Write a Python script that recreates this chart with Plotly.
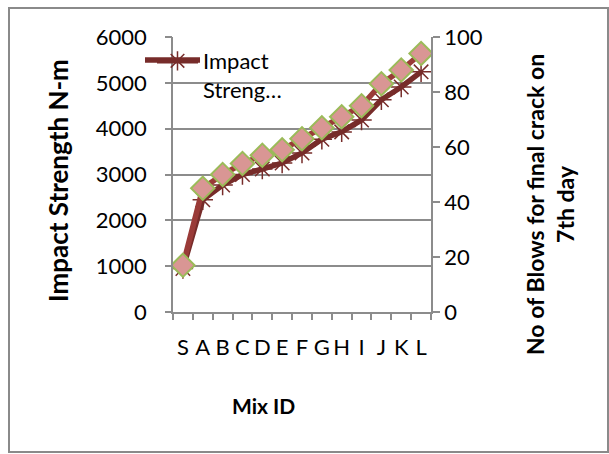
import plotly.graph_objects as go

mix_ids = ["S", "A", "B", "C", "D", "E", "F", "G", "H", "I", "J", "K", "L"]
impact_strength = [950, 2450, 2770, 3000, 3120, 3250, 3470, 3770, 3930, 4190, 4630, 4910, 5240]
blows_7th_day = [17, 45, 50, 54, 57, 59, 63, 67, 71, 75, 83, 88, 94]

FONT = "Lato"
GRID = "#8c8c8c"
IMPACT_COLOR = "#772c2a"
L, R, T, B = 173, 431, 37, 312
PW, PH = R - L, B - T


def px(x):
    return (x - L) / PW


def py(y):
    return (B - y) / PH


fig = go.Figure()

fig.add_trace(go.Scatter(
    x=mix_ids, y=impact_strength, name="Impact<br>Streng…",
    mode="lines+markers",
    line=dict(color=IMPACT_COLOR, width=5.5),
    marker=dict(symbol="asterisk-open", size=17,
                line=dict(color="#8eaad8", width=1.5)),
))
fig.add_trace(go.Scatter(
    x=mix_ids, y=blows_7th_day, name="No of Blows", yaxis="y2",
    mode="lines+markers",
    line=dict(color="#9a3b38", width=5.5),
    marker=dict(symbol="diamond", size=18, color="#d99694",
                line=dict(color="#9bbb59", width=2)),
    showlegend=False,
))

n = len(mix_ids)
boundaries = [i - 0.5 for i in range(n + 1)]

fig.update_layout(
    width=609, height=454,
    margin=dict(l=L, r=609 - R, t=T, b=454 - B),
    paper_bgcolor="white", plot_bgcolor="white",
    font=dict(family=FONT, size=22, color="black"),
    xaxis=dict(
        type="category", range=[-0.5, n - 0.5],
        tickmode="array", tickvals=mix_ids, ticktext=mix_ids, tickangle=0,
        ticks="outside", ticklen=15, tickcolor="rgba(0,0,0,0)",
        showline=True, linecolor=GRID, linewidth=1.5, showgrid=False,
        tickfont=dict(size=22),
    ),
    # tick marks between categories
    xaxis2=dict(
        overlaying="x", side="bottom", range=[-0.5, n - 0.5],
        tickmode="array", tickvals=boundaries, showticklabels=False,
        ticks="outside", ticklen=7, tickcolor=GRID, tickwidth=1.5,
        showline=False, showgrid=False, zeroline=False,
    ),
    yaxis=dict(
        range=[0, 6000], dtick=1000,
        ticks="outside", ticklen=20, tickcolor="rgba(0,0,0,0)",
        showline=True, linecolor=GRID, linewidth=1.5,
        showgrid=True, gridcolor=GRID, gridwidth=1.5, zeroline=False,
        tickfont=dict(size=22),
    ),
    yaxis3=dict(
        overlaying="y", side="left", range=[0, 6000], dtick=1000,
        showticklabels=False,
        ticks="outside", ticklen=7, tickcolor=GRID, tickwidth=1.5,
        showline=False, showgrid=False, zeroline=False,
    ),
    yaxis2=dict(
        range=[0, 100], dtick=20, overlaying="y", side="right",
        ticks="outside", ticklen=7, tickcolor=GRID, tickwidth=1.5,
        showline=True, linecolor=GRID, linewidth=1.5,
        showgrid=False, zeroline=False,
        tickfont=dict(size=22),
    ),
    legend=dict(
        x=px(152), y=py(40), xanchor="left", yanchor="top",
        bgcolor="rgba(0,0,0,0)", font=dict(size=22), valign="top",
        itemwidth=41, tracegroupgap=0,
    ),
    annotations=[
        dict(text="<b>Impact Strength N-m</b>", xref="paper", yref="paper",
             x=px(58), y=py(181), textangle=-90, showarrow=False,
             font=dict(size=26), xanchor="center", yanchor="middle"),
        dict(text="<b>No of Blows for final crack on<br>7th day</b>", xref="paper", yref="paper",
             x=px(550), y=py(205), textangle=-90, showarrow=False,
             font=dict(size=23), xanchor="center", yanchor="middle"),
        dict(text="<b>Mix ID</b>", xref="paper", yref="paper",
             x=px(263), y=py(405), showarrow=False,
             font=dict(size=21), xanchor="center", yanchor="middle"),
    ],
    shapes=[
        dict(type="rect", xref="paper", yref="paper",
             x0=px(9), x1=px(608), y0=py(452), y1=py(8),
             line=dict(color="#8a8a8a", width=2), layer="below"),
        # longer legend key line, as in the reference
        dict(type="line", xref="paper", yref="paper",
             x0=px(145), x1=px(200), y0=py(60), y1=py(60),
             line=dict(color=IMPACT_COLOR, width=5.5), layer="above"),
    ],
)

# invisible anchors so the helper tick axes are drawn
fig.add_trace(go.Scatter(x=[None], y=[None], xaxis="x2", showlegend=False, hoverinfo="skip"))
fig.add_trace(go.Scatter(x=[None], y=[None], yaxis="y3", showlegend=False, hoverinfo="skip"))

fig.write_html("out.html")
